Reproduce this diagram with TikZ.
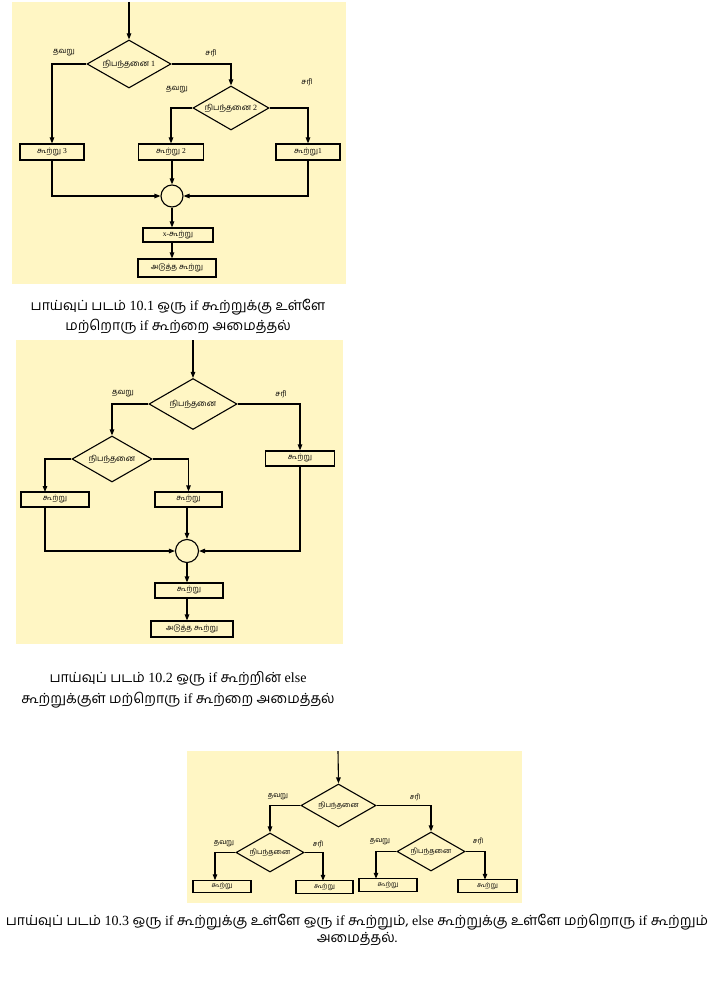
\documentclass[tikz,border=0pt]{standalone}
\usepackage{fontspec}
\setmainfont{Liberation Serif}
\newfontfamily\ta[Script=Tamil]{Hind Madurai}
\usetikzlibrary{shapes.geometric,arrows.meta,calc}
\definecolor{bgy}{HTML}{FFF6C4}
\begin{document}
\begin{tikzpicture}[x=1pt,y=-1pt,
  conn/.style={line width=1.1pt},
  arr/.style={conn, -{Triangle[length=6pt,width=4.5pt]}},
  dec/.style={diamond, draw, line width=1.1pt, fill=bgy, inner sep=0pt, shape aspect=1.75, font=\ta\fontsize{8}{9}\selectfont},
  decs/.style={dec, font=\ta\fontsize{7}{8}\selectfont},
  stmt/.style={rectangle, draw, line width=1.1pt, fill=bgy, inner sep=0pt, font=\ta\fontsize{7.5}{9}\selectfont},
  stmts/.style={stmt, font=\ta\fontsize{6.5}{8}\selectfont},
  joinpt/.style={circle, draw, line width=1.1pt, fill=bgy, inner sep=0pt},
  lbl/.style={font=\ta\fontsize{7.5}{9}\selectfont, inner sep=0pt},
  lbls/.style={font=\ta\fontsize{7}{8}\selectfont, inner sep=0pt},
  captxt/.style={font=\ta\fontsize{14}{17}\selectfont, inner sep=0pt}
]
\useasboundingbox (0,0) rectangle (715,984);
\fill[white] (0,0) rectangle (715,984);

% ---------- Diagram 1 ----------
\fill[bgy] (12,2) rectangle (346,284);
\coordinate (t1) at (129,2);
\node[dec, minimum width=84pt, minimum height=48pt] (d1) at (129,64) {நிபந்தனை {\rmfamily 1}};
\node[dec, minimum width=76pt, minimum height=44pt] (d2) at (231,108) {நிபந்தனை {\rmfamily 2}};
\node[stmt, minimum width=64pt, minimum height=16pt] (s3) at (52,152) {கூற்று {\rmfamily 3}};
\node[stmt, minimum width=65pt, minimum height=16pt] (s2) at (171,152) {கூற்று {\rmfamily 2}};
\node[stmt, minimum width=64pt, minimum height=16pt] (s1) at (308,152) {கூற்று{\rmfamily 1}};
\node[joinpt, minimum size=22pt] (c1) at (172,196) {};
\node[stmt, minimum width=70pt, minimum height=14pt] (sx) at (178,235) {{\rmfamily x-}கூற்று};
\node[stmt, minimum width=78pt, minimum height=18pt] (sn) at (177,268) {அடுத்த கூற்று};

\draw[arr] (t1) -- (d1.north);
\draw[arr] (d1.west) -| (s3.north);
\draw[arr] (d1.east) -| (d2.north);
\draw[arr] (d2.west) -| (s2.north);
\draw[arr] (d2.east) -| (s1.north);
\draw[arr] (s3.south) |- (c1.west);
\draw[arr] (c1 |- s2.south) -- (c1.north);
\draw[arr] (s1.south) |- (c1.east);
\draw[arr] (c1.south) -- (c1.south |- sx.north);
\draw[arr] (c1 |- sx.south) -- (c1 |- sn.north);

\node[lbl] (l1a) at (64,53) {தவறு};
\node[lbl] (l1b) at (211,53) {சரி};
\node[lbl] (l1c) at (177,90) {தவறு};
\node[lbl] (l1d) at (307,82) {சரி};

\node[captxt] (cap1a) at (178,307) {பாய்வுப் படம் {\rmfamily 10.1} ஒரு {\rmfamily if} கூற்றுக்கு உள்ளே};
\node[captxt] (cap1b) at (178,327) {மற்றொரு {\rmfamily if} கூற்றை அமைத்தல்};

% ---------- Diagram 2 ----------
\fill[bgy] (16,340) rectangle (343,644);
\coordinate (t2) at (193,340);
\node[dec, minimum width=88pt, minimum height=51pt] (e1) at (193,404) {நிபந்தனை};
\node[dec, minimum width=80pt, minimum height=46pt] (e2) at (112,459) {நிபந்தனை};
\node[stmt, minimum width=69pt, minimum height=15pt] (r2) at (300,458.5) {கூற்று};
\node[stmt, minimum width=68pt, minimum height=15pt] (p2) at (55,499.5) {கூற்று};
\node[stmt, minimum width=67pt, minimum height=15pt] (q2) at (188.5,499.5) {கூற்று};
\node[joinpt, minimum size=23pt] (c2) at (187,551) {};
\node[stmt, minimum width=68pt, minimum height=15pt] (u2) at (189,590.5) {கூற்று};
\node[stmt, minimum width=82pt, minimum height=16pt] (n2) at (192,629) {அடுத்த கூற்று};
\coordinate (k2) at (45,492);

\draw[arr] (t2) -- (e1.north);
\draw[arr] (e1.west) -| (e2.north);
\draw[arr] (e1.east) -| (r2.north);
\draw[arr] (e2.west) -| (k2);
\draw[arr] (e2.east) -| (q2.north);
\draw[arr] (k2 |- p2.south) |- (c2.west);
\draw[arr] (c2 |- q2.south) -- (c2.north);
\draw[arr] (r2.south) |- (c2.east);
\draw[arr] (c2.south) -- (c2.south |- u2.north);
\draw[arr] (c2 |- u2.south) -- (c2 |- n2.north);

\node[lbl] (l2a) at (123,394) {தவறு};
\node[lbl] (l2b) at (281,394) {சரி};

\node[captxt] (cap2a) at (178,679) {பாய்வுப் படம் {\rmfamily 10.2} ஒரு {\rmfamily if} கூற்றின் {\rmfamily else}};
\node[captxt] (cap2b) at (178,700) {கூற்றுக்குள் மற்றொரு {\rmfamily if} கூற்றை அமைத்தல்};

% ---------- Diagram 3 ----------
\fill[bgy] (187,751) rectangle (522,903);
\coordinate (t3) at (338,751);
\node[decs, minimum width=75pt, minimum height=43pt] (f1) at (338.5,805.5) {நிபந்தனை};
\node[decs, minimum width=68pt, minimum height=39pt] (fl) at (270,852.5) {நிபந்தனை};
\node[decs, minimum width=68pt, minimum height=39pt] (fr) at (431,851.5) {நிபந்தனை};
\node[stmts, minimum width=58pt, minimum height=12.5pt] (ll) at (222,886.5) {கூற்று};
\node[stmts, minimum width=57pt, minimum height=12.5pt] (lr) at (324.5,887) {கூற்று};
\node[stmts, minimum width=58pt, minimum height=12.5pt] (rl) at (388,885) {கூற்று};
\node[stmts, minimum width=59pt, minimum height=12.5pt] (rr) at (487.5,886) {கூற்று};
\coordinate (kll) at (215,880.25);
\coordinate (klr) at (323,880.75);
\coordinate (krl) at (376,878.75);
\coordinate (krr) at (485,879.75);

\draw[arr] (t3) -- (f1.north);
\draw[arr] (f1.west) -| (fl.north);
\draw[arr] (f1.east) -| (fr.north);
\draw[arr] (fl.west) -| (kll);
\draw[arr] (fl.east) -| (klr);
\draw[arr] (fr.west) -| (krl);
\draw[arr] (fr.east) -| (krr);

\node[lbls] (l3a) at (278,797) {தவறு};
\node[lbls] (l3b) at (415,797) {சரி};
\node[lbls] (l3c) at (224,844) {தவறு};
\node[lbls] (l3d) at (318,844) {சரி};
\node[lbls] (l3e) at (380,842) {தவறு};
\node[lbls] (l3f) at (478,841) {சரி};

\node[captxt] (cap3a) at (357,922) {பாய்வுப் படம் {\rmfamily 10.3} ஒரு {\rmfamily if} கூற்றுக்கு உள்ளே ஒரு {\rmfamily if} கூற்றும், {\rmfamily else} கூற்றுக்கு உள்ளே மற்றொரு {\rmfamily if} கூற்றும்};
\node[captxt] (cap3b) at (357,939) {அமைத்தல்.};
\end{tikzpicture}
\end{document}
